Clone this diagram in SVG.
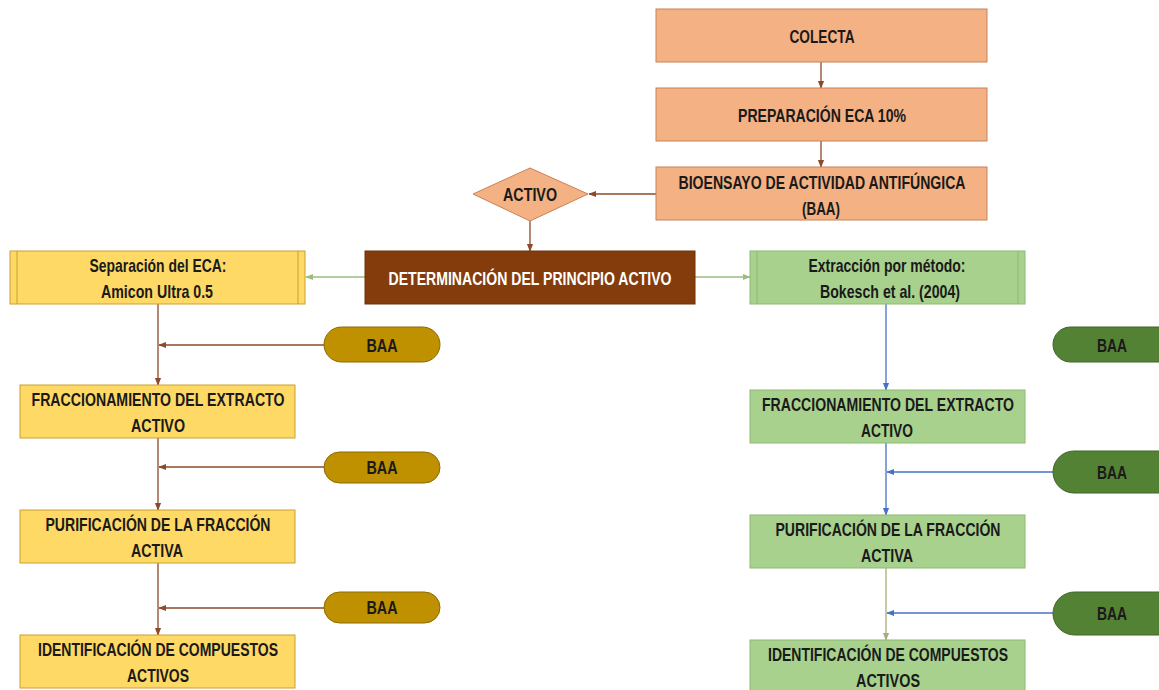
<svg xmlns="http://www.w3.org/2000/svg" width="1159" height="690" viewBox="0 0 1159 690">
<style>
text{font-family:"Liberation Sans",Arial,sans-serif;font-weight:bold;font-size:19px;text-anchor:middle;fill:#1a1a1a}
.sal{fill:#F4B183;stroke:#C8825A;stroke-width:1}
.yel{fill:#FFD966;stroke:#C9A030;stroke-width:1}
.grn{fill:#A9D18E;stroke:#8DB873;stroke-width:1}
.pl{fill:#BF9000;stroke:#8C6A00;stroke-width:1}
.pr{fill:#548235;stroke:#3F6428;stroke-width:1}
.c{fill:none;stroke-width:1.3}
.br{stroke:#8B4A2B}
.gr{stroke:#9DBB7E}
.bl{stroke:#4472C4}
.ol{stroke:#A8AE78}
</style>
<defs>
<marker id="mbr" viewBox="0 0 10 10" refX="9" refY="5" markerWidth="6" markerHeight="6" orient="auto"><path d="M0,1 L10,5 L0,9 z" fill="#8B4A2B"/></marker>
<marker id="mgr" viewBox="0 0 10 10" refX="9" refY="5" markerWidth="6" markerHeight="6" orient="auto"><path d="M0,1 L10,5 L0,9 z" fill="#9DBB7E"/></marker>
<marker id="mbl" viewBox="0 0 10 10" refX="9" refY="5" markerWidth="6" markerHeight="6" orient="auto"><path d="M0,1 L10,5 L0,9 z" fill="#4472C4"/></marker>
<marker id="mol" viewBox="0 0 10 10" refX="9" refY="5" markerWidth="6" markerHeight="6" orient="auto"><path d="M0,1 L10,5 L0,9 z" fill="#A8AE78"/></marker>
</defs>
<rect width="1159" height="690" fill="#ffffff"/>

<g id="connectors">
<path class="c br" d="M821,62 V88" marker-end="url(#mbr)"/>
<path class="c br" d="M821,141 V167" marker-end="url(#mbr)"/>
<path class="c br" d="M656,194 H589" marker-end="url(#mbr)"/>
<path class="c br" d="M530,221 V251" marker-end="url(#mbr)"/>
<path class="c gr" d="M365,277 H306" marker-end="url(#mgr)"/>
<path class="c gr" d="M695,277 H750" marker-end="url(#mgr)"/>
<path class="c br" d="M158,304 V385" marker-end="url(#mbr)"/>
<path class="c br" d="M324,345 H159" marker-end="url(#mbr)"/>
<path class="c br" d="M158,438 V510" marker-end="url(#mbr)"/>
<path class="c br" d="M324,467 H159" marker-end="url(#mbr)"/>
<path class="c br" d="M158,563 V635" marker-end="url(#mbr)"/>
<path class="c br" d="M324,608 H159" marker-end="url(#mbr)"/>
<path class="c bl" d="M886,304 V390" marker-end="url(#mbl)"/>
<path class="c bl" d="M886,443 V515" marker-end="url(#mbl)"/>
<path class="c bl" d="M1053,472 H887" marker-end="url(#mbl)"/>
<path class="c ol" d="M886,568 V640" marker-end="url(#mol)"/>
<path class="c bl" d="M1053,613 H887" marker-end="url(#mbl)"/>
</g>

<g id="colecta"><rect class="sal" x="656" y="9" width="331" height="53"/><text x="822" y="43" textLength="65" lengthAdjust="spacingAndGlyphs">COLECTA</text></g>
<g id="preparacion"><rect class="sal" x="656" y="88" width="331" height="53"/><text x="822" y="122" textLength="168" lengthAdjust="spacingAndGlyphs">PREPARACIÓN ECA 10%</text></g>
<g id="bioensayo"><rect class="sal" x="656" y="167" width="331" height="53"/><text x="822" y="189" textLength="287" lengthAdjust="spacingAndGlyphs">BIOENSAYO DE ACTIVIDAD ANTIFÚNGICA</text><text x="821" y="215" textLength="38" lengthAdjust="spacingAndGlyphs">(BAA)</text></g>
<g id="activo"><polygon class="sal" points="530,168 588,194 530,221 473,194"/><text x="530" y="201" textLength="54" lengthAdjust="spacingAndGlyphs">ACTIVO</text></g>
<g id="determinacion"><rect x="365" y="251" width="330" height="53" fill="#843C0C" stroke="#6A300A"/><text x="530" y="285" textLength="283" lengthAdjust="spacingAndGlyphs" style="fill:#ffffff">DETERMINACIÓN DEL PRINCIPIO ACTIVO</text></g>

<g id="separacion"><rect class="yel" x="10" y="251" width="295" height="53"/><path d="M17,251 V304 M298,251 V304" stroke="#C9A030" fill="none"/><text x="158" y="272" textLength="137" lengthAdjust="spacingAndGlyphs">Separación del ECA:</text><text x="157" y="298" textLength="112" lengthAdjust="spacingAndGlyphs">Amicon Ultra 0.5</text></g>
<g id="fracc-l"><rect class="yel" x="20" y="385" width="275" height="53"/><text x="158" y="406" textLength="253" lengthAdjust="spacingAndGlyphs">FRACCIONAMIENTO DEL EXTRACTO</text><text x="158" y="432" textLength="54" lengthAdjust="spacingAndGlyphs">ACTIVO</text></g>
<g id="purif-l"><rect class="yel" x="20" y="510" width="275" height="53"/><text x="158" y="531" textLength="225" lengthAdjust="spacingAndGlyphs">PURIFICACIÓN DE LA FRACCIÓN</text><text x="157" y="557" textLength="52" lengthAdjust="spacingAndGlyphs">ACTIVA</text></g>
<g id="ident-l"><rect class="yel" x="20" y="635" width="275" height="53"/><text x="158" y="656" textLength="240" lengthAdjust="spacingAndGlyphs">IDENTIFICACIÓN DE COMPUESTOS</text><text x="158" y="682" textLength="62" lengthAdjust="spacingAndGlyphs">ACTIVOS</text></g>
<g id="baa-l1"><rect class="pl" x="324" y="327" width="116" height="35" rx="17.5"/><text x="382" y="352" textLength="31" lengthAdjust="spacingAndGlyphs">BAA</text></g>
<g id="baa-l2"><rect class="pl" x="324" y="452" width="116" height="31" rx="15.5"/><text x="382" y="474" textLength="31" lengthAdjust="spacingAndGlyphs">BAA</text></g>
<g id="baa-l3"><rect class="pl" x="324" y="592" width="116" height="31" rx="15.5"/><text x="382" y="614" textLength="31" lengthAdjust="spacingAndGlyphs">BAA</text></g>

<g id="extraccion"><rect class="grn" x="750" y="251" width="275" height="53"/><path d="M757,251 V304 M1018,251 V304" stroke="#8DB873" fill="none"/><text x="887" y="272" textLength="157" lengthAdjust="spacingAndGlyphs">Extracción por método:</text><text x="890" y="298" textLength="140" lengthAdjust="spacingAndGlyphs">Bokesch et al. (2004)</text></g>
<g id="fracc-r"><rect class="grn" x="750" y="390" width="275" height="53"/><text x="888" y="411" textLength="252" lengthAdjust="spacingAndGlyphs">FRACCIONAMIENTO DEL EXTRACTO</text><text x="887" y="437" textLength="52" lengthAdjust="spacingAndGlyphs">ACTIVO</text></g>
<g id="purif-r"><rect class="grn" x="750" y="515" width="275" height="53"/><text x="888" y="536" textLength="225" lengthAdjust="spacingAndGlyphs">PURIFICACIÓN DE LA FRACCIÓN</text><text x="887" y="562" textLength="52" lengthAdjust="spacingAndGlyphs">ACTIVA</text></g>
<g id="ident-r"><rect class="grn" x="750" y="640" width="275" height="53"/><text x="888" y="661" textLength="240" lengthAdjust="spacingAndGlyphs">IDENTIFICACIÓN DE COMPUESTOS</text><text x="888" y="687" textLength="64" lengthAdjust="spacingAndGlyphs">ACTIVOS</text></g>
<g id="baa-r1"><rect class="pr" x="1053" y="327" width="130" height="35" rx="17.5"/><text x="1112" y="352" textLength="30" lengthAdjust="spacingAndGlyphs">BAA</text></g>
<g id="baa-r2"><rect class="pr" x="1053" y="451" width="130" height="42" rx="21"/><text x="1112" y="479" textLength="30" lengthAdjust="spacingAndGlyphs">BAA</text></g>
<g id="baa-r3"><rect class="pr" x="1053" y="592" width="130" height="43" rx="21.5"/><text x="1112" y="620" textLength="30" lengthAdjust="spacingAndGlyphs">BAA</text></g>
</svg>
